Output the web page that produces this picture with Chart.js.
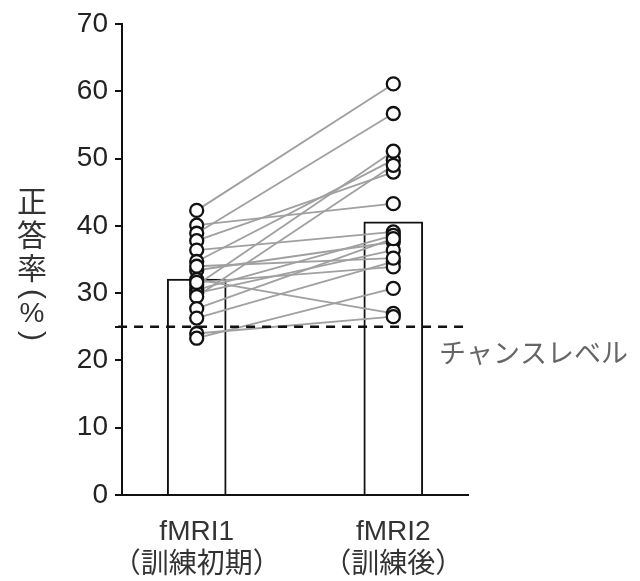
<!DOCTYPE html>
<html>
<head>
<meta charset="utf-8">
<script src="https://cdn.jsdelivr.net/npm/chart.js@4"></script>
<style>
  html, body { margin: 0; padding: 0; background: #fff; }
  #wrap { width: 640px; height: 581px; }
</style>
</head>
<body>
<div id="wrap"><canvas id="chart" width="640" height="581"></canvas></div>
<script>
// group labels and bar means
const groups = [['fMRI1', '（訓練初期）'], ['fMRI2', '（訓練後）']];
const barValues = [32.1, 40.6];
const chanceLevel = 25;

// per-subject scores (same index = same subject)
const fmri1 = [42.3, 40.1, 38.9, 37.8, 36.4, 34.7, 33.4, 32.0, 31.2, 30.5, 30.0, 29.5, 27.7, 26.3, 24.0, 23.3, 31.6, 34.0];
const fmri2 = [61.1, 43.3, 56.7, 48.0, 39.1, 49.8, 37.6, 27.0, 51.1, 38.6, 36.4, 49.0, 38.1, 34.7, 26.5, 30.7, 33.9, 35.2];

const yTicks = [0, 10, 20, 30, 40, 50, 60, 70];

const latin = "'Liberation Sans', Arial, 'Noto Sans CJK JP', sans-serif";
const jp = "'Noto Sans CJK JP', 'Liberation Sans', sans-serif";

const xMin = 0.62, xMax = 2.38;

const datasets = [];

datasets.push({
    type: 'bar',
    data: barValues.map((v, i) => ({ x: i + 1, y: v })),
    backgroundColor: '#fff',
    borderColor: '#111',
    borderWidth: 2,
    barThickness: 59,
    order: 5
});

fmri1.forEach((v, i) => {
    datasets.push({
        type: 'line',
        data: [{ x: 1, y: v }, { x: 2, y: fmri2[i] }],
        borderColor: '#a0a0a0',
        borderWidth: 1.8,
        pointRadius: 0,
        order: 4
    });
});

datasets.push({
    type: 'line',
    data: [{ x: xMin - 0.02, y: chanceLevel }, { x: xMax, y: chanceLevel }],
    borderColor: '#111',
    borderWidth: 2.5,
    borderDash: [9, 7],
    pointRadius: 0,
    clip: false,
    order: 3
});

datasets.push({
    type: 'scatter',
    data: fmri1.map(v => ({ x: 1, y: v })).concat(fmri2.map(v => ({ x: 2, y: v }))),
    backgroundColor: '#fff',
    borderColor: '#111',
    borderWidth: 2.3,
    pointRadius: 6.5,
    order: 1
});

const textPlugin = {
    id: 'texts',
    afterDraw(c) {
        const ctx = c.ctx;
        const y = c.scales.y;
        ctx.save();
        // vertical axis title, characters stacked upright
        ctx.fillStyle = '#333';
        ctx.textAlign = 'center';
        ctx.textBaseline = 'middle';
        const chars = ['正', '答', '率', '(', '%', ')'];
        const ys = [201, 235, 268, 294, 314, 336];
        chars.forEach((ch, i) => {
            if (ch === '(' || ch === ')') {
                ctx.save();
                ctx.translate(32, ys[i]);
                ctx.rotate(Math.PI / 2);
                ctx.font = '30px ' + latin;
                ctx.fillText(ch, 0, 0);
                ctx.restore();
                return;
            }
            ctx.font = ch === '%' ? '28px ' + latin : '30px ' + jp;
            ctx.fillText(ch, 32, ys[i]);
        });
        // chance level label
        ctx.fillStyle = '#666';
        ctx.textAlign = 'left';
        ctx.font = '27px ' + jp;
        ctx.fillText('チャンスレベル', 439, y.getPixelForValue(chanceLevel) + 26);
        ctx.restore();
    }
};

new Chart(document.getElementById('chart'), {
    data: { datasets: datasets },
    options: {
        responsive: false,
        animation: false,
        layout: { padding: { top: 24, right: 172, left: 0, bottom: 0 } },
        plugins: { legend: { display: false }, tooltip: { enabled: false } },
        scales: {
            x: {
                type: 'linear',
                min: xMin,
                max: xMax,
                offset: false,
                afterBuildTicks: s => { s.ticks = [{ value: 1 }, { value: 2 }]; },
                afterFit: s => { s.height = 86; },
                ticks: {
                    color: '#333',
                    padding: 12,
                    font: { size: 28, family: latin },
                    callback: v => groups[v - 1]
                },
                grid: { display: false },
                border: { color: '#111', width: 2 }
            },
            y: {
                min: 0,
                max: 70,
                afterBuildTicks: s => {
                    s.ticks = yTicks.concat([chanceLevel]).sort((a, b) => a - b).map(v => ({ value: v }));
                },
                afterFit: s => { s.width = 122; },
                ticks: {
                    color: '#222',
                    padding: 7,
                    font: { size: 28, family: latin },
                    callback: v => (v === chanceLevel ? '' : v)
                },
                grid: {
                    drawOnChartArea: false,
                    drawTicks: true,
                    tickLength: 7,
                    color: '#111',
                    lineWidth: 2
                },
                border: { color: '#111', width: 2 }
            }
        }
    },
    plugins: [textPlugin]
});
</script>
</body>
</html>
